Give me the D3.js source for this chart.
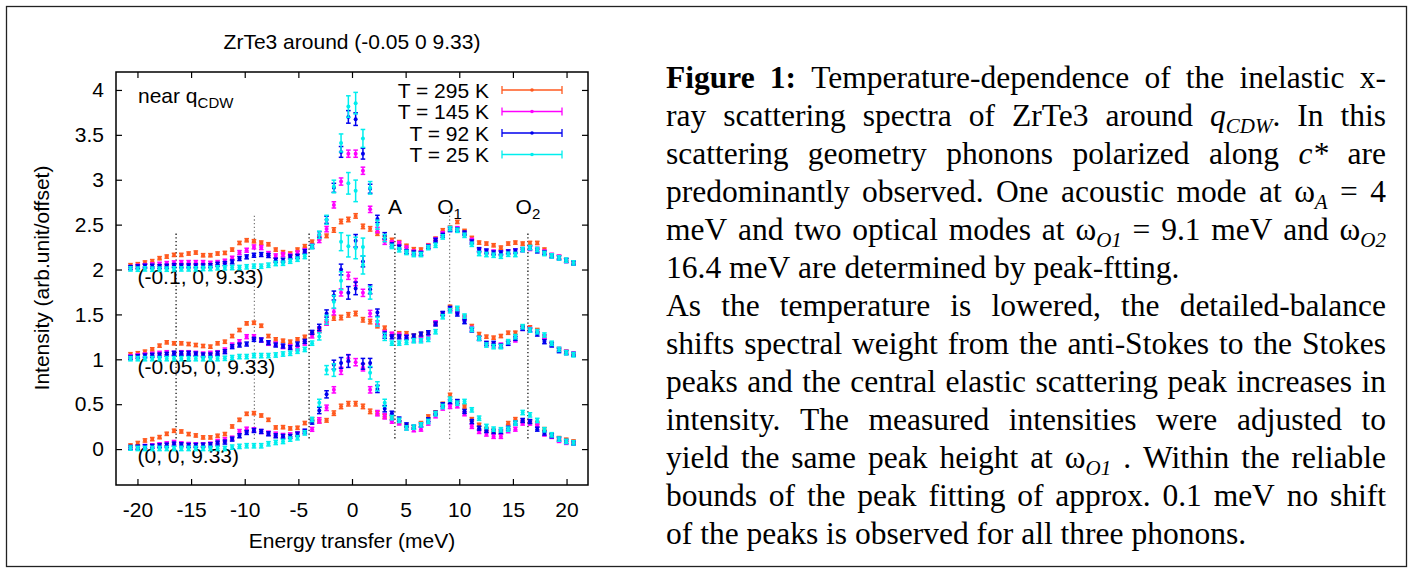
<!DOCTYPE html>
<html><head><meta charset="utf-8">
<script src="https://cdn.jsdelivr.net/npm/d3@7"></script>
<style>body{margin:0;background:#fff}svg{display:block}</style>
</head><body>
<svg id="c" width="1413" height="573"></svg>
<script>
// ---------------- DATA ----------------
const energy = [-20.65,-19.97,-19.30,-18.62,-17.94,-17.27,-16.59,-15.91,-15.23,-14.56,-13.88,-13.20,
 -12.53,-11.85,-11.17,-10.49,-9.82,-9.14,-8.46,-7.79,-7.11,-6.43,-5.76,-5.08,
 -4.40,-3.72,-3.05,-2.37,-1.69,-1.02,-0.34,0.34,1.02,1.69,2.37,3.05,3.72,4.40,
 5.08,5.76,6.43,7.11,7.79,8.46,9.14,9.82,10.49,11.17,11.85,12.53,13.20,13.88,14.56,15.23,
 15.91,16.59,17.27,17.94,18.62,19.30,19.97,20.65];
const temperatures = ["T = 295 K","T = 145 K","T = 92 K","T = 25 K"];
const qLabels = ["(0, 0, 9.33)","(-0.05, 0, 9.33)","(-0.1, 0, 9.33)"];
const offsets = [0, 1, 2];
const xTicks = [-20,-15,-10,-5,0,5,10,15,20];
const yTicks = [0,0.5,1,1.5,2,2.5,3,3.5,4];
const modeEnergies = [-16.4,-9.1,-4,4,9.1,16.4];
const modeLineTop = [2.4,2.6,2.4,2.4,2.6,2.4];
const modeNames = [["A",""],["O","1"],["O","2"]];
const modeNameEnergies = [4, 9.1, 16.4];

// intensities (without offset), q = (0,0,9.33)
const T295_q0 = [0.040,0.067,0.096,0.111,0.133,0.170,0.204,0.196,0.167,0.152,0.130,0.130,0.148,0.167,0.252,0.326,0.393,0.400,0.374,0.326,0.241,0.244,0.230,0.237,
 0.29,0.33,0.31,0.32,0.40,0.475,0.505,0.505,0.475,0.42,0.40,0.365,0.34,0.30,0.26,
 0.241,0.289,0.363,0.407,0.504,0.604,0.530,0.474,0.333,0.270,0.222,0.204,0.185,0.289,0.333,0.319,0.307,0.289,0.222,0.159,0.122,0.104,0.085];
const T145_q0 = [0.015,0.015,0.030,0.037,0.048,0.059,0.074,0.059,0.052,0.048,0.048,0.056,0.085,0.104,0.122,0.196,0.222,0.215,0.196,0.178,0.167,0.152,0.159,0.170,
 0.19,0.22,0.32,0.46,0.66,0.872,1.013,0.968,0.91,0.66,0.40,0.365,0.31,0.29,0.235,
 0.215,0.222,0.289,0.370,0.456,0.474,0.481,0.393,0.252,0.196,0.167,0.141,0.141,0.204,0.222,0.289,0.289,0.270,0.167,0.141,0.096,0.074,0.067];
const T92_q0 = [0.019,0.022,0.026,0.030,0.037,0.044,0.056,0.048,0.041,0.041,0.044,0.048,0.067,0.078,0.111,0.148,0.185,0.207,0.196,0.170,0.148,0.141,0.141,0.167,
 0.20,0.30,0.43,0.61,0.94,0.96,0.98,1.79,0.95,0.96,0.67,0.45,0.40,0.335,0.27,
 0.244,0.270,0.326,0.400,0.493,0.530,0.530,0.419,0.307,0.233,0.207,0.196,0.196,0.233,0.289,0.319,0.307,0.222,0.178,0.148,0.111,0.085,0.070];
const T25_q0 = [0.011,0.007,0.007,0.007,0.007,0.007,0.007,0.007,0.007,0.007,0.007,0.007,0.007,0.007,0.022,0.030,0.037,0.037,0.037,0.059,0.074,0.085,0.111,0.126,
 0.18,0.33,0.515,0.88,0.88,1.875,2.26,2.24,2.05,0.85,0.70,0.515,0.35,0.32,0.235,
 0.244,0.270,0.307,0.393,0.474,0.556,0.511,0.530,0.437,0.344,0.252,0.222,0.215,0.222,0.289,0.407,0.381,0.319,0.215,0.159,0.111,0.085,0.070];

// q = (-0.05,0,9.33)
const T295_q005 = [0.056,0.067,0.085,0.111,0.152,0.189,0.178,0.178,0.170,0.159,0.148,0.141,0.178,0.196,0.259,0.326,0.400,0.407,0.374,0.259,0.222,0.207,0.196,0.222,
 0.25,0.30,0.32,0.40,0.46,0.465,0.495,0.51,0.44,0.42,0.37,0.35,0.28,0.29,0.29,
 0.263,0.281,0.296,0.400,0.511,0.585,0.556,0.474,0.370,0.281,0.252,0.241,0.259,0.296,0.296,0.363,0.356,0.326,0.252,0.170,0.111,0.085,0.056];
const T145_q005 = [0.030,0.041,0.048,0.056,0.067,0.074,0.067,0.074,0.074,0.067,0.059,0.067,0.074,0.104,0.159,0.196,0.252,0.252,0.215,0.178,0.170,0.141,0.141,0.122,
 0.18,0.26,0.33,0.41,0.53,0.745,0.93,0.86,0.74,0.51,0.40,0.29,0.28,0.27,0.25,
 0.215,0.222,0.252,0.407,0.504,0.556,0.530,0.456,0.344,0.233,0.170,0.159,0.159,0.178,0.215,0.344,0.333,0.307,0.252,0.170,0.111,0.080,0.056];
const T92_q005 = [0.019,0.030,0.037,0.044,0.048,0.056,0.067,0.067,0.067,0.059,0.048,0.048,0.067,0.085,0.141,0.159,0.170,0.222,0.215,0.185,0.159,0.148,0.130,0.170,
 0.20,0.30,0.355,0.51,0.71,1.00,0.74,1.32,1.09,0.78,0.52,0.27,0.25,0.25,0.245,
 0.259,0.281,0.296,0.393,0.511,0.567,0.504,0.419,0.326,0.233,0.178,0.178,0.148,0.178,0.233,0.344,0.326,0.281,0.196,0.159,0.096,0.074,0.056];
const T25_q005 = [0.007,0.007,0.007,0.007,0.007,0.007,0.007,0.007,0.007,0.007,0.007,0.007,0.007,0.011,0.019,0.030,0.030,0.041,0.041,0.041,0.048,0.059,0.067,0.090,
 0.11,0.18,0.255,0.44,0.64,1.31,1.96,1.876,1.25,0.74,0.42,0.25,0.18,0.18,0.19,
 0.207,0.207,0.222,0.307,0.474,0.541,0.567,0.481,0.333,0.233,0.159,0.141,0.141,0.196,0.252,0.363,0.326,0.307,0.270,0.178,0.111,0.074,0.050];

// q = (-0.1,0,9.33)
const T295_q01 = [0.048,0.059,0.078,0.093,0.126,0.144,0.163,0.163,0.178,0.189,0.159,0.159,0.178,0.185,0.222,0.296,0.326,0.315,0.300,0.281,0.222,0.193,0.178,0.222,
 0.26,0.31,0.35,0.375,0.44,0.535,0.557,0.597,0.48,0.453,0.40,0.35,0.33,0.305,0.264,
 0.226,0.222,0.270,0.344,0.437,0.467,0.530,0.430,0.352,0.300,0.289,0.270,0.244,0.289,0.300,0.289,0.296,0.296,0.222,0.159,0.141,0.104,0.074];
const T145_q01 = [0.022,0.037,0.044,0.052,0.059,0.067,0.074,0.078,0.078,0.078,0.078,0.070,0.078,0.093,0.126,0.189,0.215,0.252,0.244,0.178,0.152,0.167,0.156,0.185,
 0.21,0.26,0.33,0.45,0.72,0.98,1.29,1.29,1.10,0.67,0.44,0.31,0.30,0.29,0.24,
 0.196,0.185,0.259,0.333,0.400,0.456,0.456,0.400,0.326,0.215,0.196,0.196,0.185,0.196,0.207,0.222,0.233,0.226,0.196,0.159,0.140,0.100,0.070];
const T92_q01 = [0.022,0.030,0.037,0.037,0.033,0.037,0.044,0.041,0.041,0.041,0.041,0.044,0.059,0.067,0.085,0.122,0.141,0.159,0.167,0.156,0.104,0.104,0.141,0.148,
 0.20,0.257,0.387,0.554,0.91,1.31,1.70,1.675,1.29,0.90,0.564,0.376,0.275,0.25,0.20,
 0.185,0.178,0.252,0.326,0.381,0.444,0.444,0.407,0.307,0.222,0.207,0.185,0.185,0.196,0.207,0.222,0.244,0.207,0.185,0.152,0.130,0.100,0.074];
const T25_q01 = [0.007,0.004,0.007,0.004,0.004,0.004,0.007,0.007,0.007,0.007,0.011,0.011,0.019,0.019,0.022,0.022,0.030,0.037,0.037,0.048,0.067,0.070,0.093,0.115,
 0.145,0.255,0.387,0.554,0.925,1.41,1.815,1.853,1.46,0.91,0.50,0.35,0.257,0.22,0.19,
 0.167,0.167,0.244,0.270,0.363,0.456,0.437,0.381,0.281,0.178,0.167,0.159,0.148,0.170,0.167,0.222,0.244,0.222,0.178,0.152,0.130,0.104,0.074];

// error bars
const errWing = [0.018, 0.022, 0.022, 0.024];
const errCenterStart = 26;
const errCenter = [
 [0.020,0.020,0.025,0.025,0.025,0.025,0.025,0.025,0.020,0.020],
 [0.030,0.030,0.035,0.040,0.040,0.040,0.040,0.035,0.030,0.030],
 [0.035,0.040,0.050,0.060,0.070,0.070,0.060,0.050,0.040,0.035],
 [0.040,0.050,0.070,0.100,0.120,0.120,0.100,0.070,0.050,0.040]];

const seriesValues = [
 [T295_q0, T295_q005, T295_q01],
 [T145_q0, T145_q005, T145_q01],
 [T92_q0,  T92_q005,  T92_q01],
 [T25_q0,  T25_q005,  T25_q01]];

// ---------------- STYLE ----------------
const colors = ["#ff5a1f","#ff00ff","#0000ee","#00eeee"];
const sans = "'Liberation Sans', Arial, Helvetica, sans-serif";
const serif = "'Liberation Serif', 'Times New Roman', Times, serif";
const FS = 21;

const svg = d3.select("#c");
svg.append("rect").attr("x",6.5).attr("y",6.5).attr("width",1400).attr("height",560)
  .attr("fill","none").attr("stroke","#222").attr("stroke-width",1.3);

const x = d3.scaleLinear().domain([-22,22]).range([116,588]);
const y = d3.scaleLinear().domain([-0.4,4.2]).range([485,72]);

const g = svg.append("g").style("font-family", sans).style("font-size", FS+"px");

// title
g.append("text").attr("x",352).attr("y",49).attr("text-anchor","middle").text("ZrTe3 around (-0.05 0 9.33)");

// axes
const ax = d3.axisBottom(x).tickValues(xTicks).tickSize(-6).tickFormat(d=>String(d));
const axG = g.append("g").attr("transform","translate(0,485)").call(ax);
axG.selectAll("text").attr("y",32).attr("dy",null);
const axT = g.append("g").attr("transform","translate(0,72)").call(d3.axisTop(x).tickValues(xTicks).tickSize(-6).tickFormat(""));
const ay = d3.axisLeft(y).tickValues(yTicks).tickSize(-6).tickPadding(12).tickFormat(d=>String(d));
const ayG = g.append("g").attr("transform","translate(116,0)").call(ay);
const ayR = g.append("g").attr("transform","translate(588,0)").call(d3.axisRight(y).tickValues(yTicks).tickSize(-6).tickFormat(""));
[axG,axT,ayG,ayR].forEach(a=>{
  a.select(".domain").remove();
  a.selectAll("line").attr("stroke","#000").attr("stroke-width",1.2);
  a.selectAll("text").attr("fill","#000").style("font-family",sans).style("font-size",FS+"px");
  a.attr("font-size",null).attr("font-family",null);
});
g.append("rect").attr("x",116).attr("y",72).attr("width",472).attr("height",413)
  .attr("fill","none").attr("stroke","#000").attr("stroke-width",1.5);

// axis labels
g.append("text").attr("x",352).attr("y",548).attr("text-anchor","middle").text("Energy transfer (meV)");
g.append("text").attr("transform","translate(49,278) rotate(-90)").attr("text-anchor","middle").text("Intensity (arb.unit/offset)");

// mode lines
g.selectAll(".mode").data(modeEnergies).enter().append("line")
  .attr("x1",d=>x(d)).attr("x2",d=>x(d))
  .attr("y1",(d,i)=>y(modeLineTop[i])).attr("y2",y(0.1))
  .attr("stroke",(d)=>Math.abs(d)===9.1?"#777":"#000")
  .attr("stroke-width",1.2).attr("stroke-dasharray","1.3,2.4");

// mode labels
modeNames.forEach((m,i)=>{
  const t = g.append("text").attr("x",x(modeNameEnergies[i])).attr("y",214).attr("text-anchor","middle");
  t.append("tspan").text(m[0]);
  if (m[1]) t.append("tspan").attr("dy",5).style("font-size","15px").text(m[1]);
});

// near q_CDW
const nq = g.append("text").attr("x",138).attr("y",103);
nq.append("tspan").text("near q");
nq.append("tspan").attr("dy",5).style("font-size","15px").text("CDW");

// q labels
qLabels.forEach((q,k)=>{
  g.append("text").attr("x",x(-20)).attr("y",y(offsets[k]-0.16)).text(q);
});

// data
const plot = g.append("g");
seriesValues.forEach((groups,t)=>{
  groups.forEach((vals,k)=>{
    const pts = energy.map((e,i)=>{
      const ci = i - errCenterStart;
      const err = (ci>=0 && ci<errCenter[t].length) ? errCenter[t][ci] : errWing[t];
      return {e, v: vals[i] + offsets[k], err};
    });
    const sg = plot.append("g").attr("stroke",colors[t]).attr("fill",colors[t]).attr("stroke-width",1.5);
    const p = sg.selectAll("g").data(pts).enter().append("g");
    p.append("line").attr("x1",d=>x(d.e)).attr("x2",d=>x(d.e)).attr("y1",d=>y(d.v-d.err)).attr("y2",d=>y(d.v+d.err));
    p.append("line").attr("x1",d=>x(d.e)-2.3).attr("x2",d=>x(d.e)+2.3).attr("y1",d=>y(d.v-d.err)).attr("y2",d=>y(d.v-d.err));
    p.append("line").attr("x1",d=>x(d.e)-2.3).attr("x2",d=>x(d.e)+2.3).attr("y1",d=>y(d.v+d.err)).attr("y2",d=>y(d.v+d.err));
    p.append("circle").attr("cx",d=>x(d.e)).attr("cy",d=>y(d.v)).attr("r",2).attr("stroke","none");
  });
});

// legend
temperatures.forEach((T,t)=>{
  const ly = 90 + t*21.5;
  g.append("text").attr("x",489).attr("y",ly).attr("dy","0.36em").attr("text-anchor","end").text(T);
  const lg = g.append("g").attr("stroke",colors[t]).attr("stroke-width",1.3);
  lg.append("line").attr("x1",502).attr("x2",562).attr("y1",ly).attr("y2",ly);
  lg.append("line").attr("x1",502).attr("x2",502).attr("y1",ly-4).attr("y2",ly+4);
  lg.append("line").attr("x1",562).attr("x2",562).attr("y1",ly-4).attr("y2",ly+4);
  lg.append("circle").attr("cx",532).attr("cy",ly).attr("r",1.8).attr("fill",colors[t]).attr("stroke","none");
});

// ---------------- CAPTION ----------------
const captionLines = [
 ["[b:Figure] [b:1:] Temperature-dependence of the inelastic x-", true],
 ["ray scattering spectra of ZrTe3 around [i:q][s:CDW]. In this", true],
 ["scattering geometry phonons polarized along [i:c*] are", true],
 ["predominantly observed. One acoustic mode at ω[s:A] = 4", true],
 ["meV and two optical modes at ω[s:O1] = 9.1 meV and ω[s:O2]", true],
 ["16.4 meV are determined by peak-ftting.", false],
 ["As the temperature is lowered, the detailed-balance", true],
 ["shifts spectral weight from the anti-Stokes to the Stokes", true],
 ["peaks and the central elastic scattering peak increases in", true],
 ["intensity. The measured intensities were adjusted to", true],
 ["yield the same peak height at ω[s:O1] . Within the reliable", true],
 ["bounds of the peak fitting of approx. 0.1 meV no shift", true],
 ["of the peaks is observed for all three phonons.", false]];
const capX0 = 666, capX1 = 1386, capY0 = 88, capDY = 38, capFS = 31.5;
const subFS = 21, subDY = 7;
const cap = svg.append("g").style("font-family",serif).style("font-size",capFS+"px").attr("fill","#000");
captionLines.forEach(([line,just],li)=>{
  const yy = capY0 + li*capDY;
  const words = line.split(" ");
  const els = words.map(w=>{
    const te = cap.append("text").attr("y",yy);
    const re = /\[(b|i|s):([^\]]+)\]|([^\[]+)/g;
    let m, shifted=false;
    while((m = re.exec(w))){
      const ts = te.append("tspan");
      if (m[3]) { ts.text(m[3]); if(shifted){ts.attr("dy",-subDY);shifted=false;} }
      else if (m[1]==="b") { ts.style("font-weight","bold").text(m[2]); if(shifted){ts.attr("dy",-subDY);shifted=false;} }
      else if (m[1]==="i") { ts.style("font-style","italic").text(m[2]); if(shifted){ts.attr("dy",-subDY);shifted=false;} }
      else if (m[1]==="s") { ts.style("font-style","italic").style("font-size",subFS+"px").attr("dy",subDY).text(m[2]); shifted=true; }
    }
    return te;
  });
  const widths = els.map(e=>e.node().getComputedTextLength());
  const total = d3.sum(widths);
  const gap = just ? (capX1-capX0-total)/(words.length-1) : capFS*0.25;
  let cx = capX0;
  els.forEach((e,i)=>{ e.attr("x",cx); cx += widths[i] + gap; });
});
</script>
</body></html>
